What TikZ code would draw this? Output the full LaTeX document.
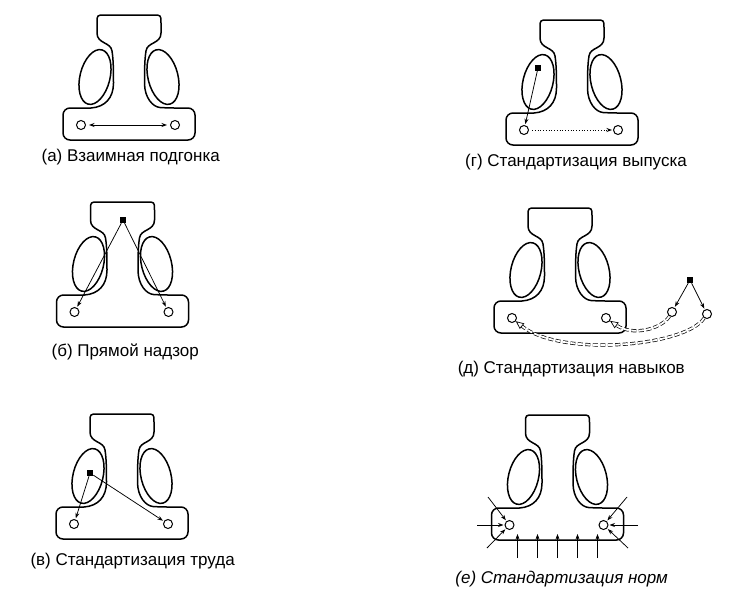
\documentclass[tikz,border=0pt]{standalone}
\usepackage{fontspec}
\setmainfont{Liberation Sans}
\usetikzlibrary{arrows.meta}
\tikzset{
  outline/.style={line width=1.5pt, line join=round},
  hole/.style={circle, draw, line width=1pt, minimum size=9pt, inner sep=0pt},
  sq/.style={rectangle, fill=black, minimum size=6pt, inner sep=0pt},
  arr/.style={line width=0.75pt, -{Stealth[length=5.5pt,width=4pt]}, shorten >=1pt},
  darr/.style={line width=0.75pt, {Stealth[length=5.5pt,width=4pt]}-{Stealth[length=5.5pt,width=4pt]}, shorten >=3pt, shorten <=3pt},
  dbl/.style={line width=0.7pt, double, double distance=1.8pt, dash pattern=on 5pt off 2.5pt, -{Triangle[open,length=8pt,width=7pt]}},
  lbl/.style={anchor=east, font=\fontsize{17}{19}\selectfont, inner sep=0pt},
  org/.pic={
    \draw[outline] (-38,0) [rounded corners=7pt] -- (-66,0) -- (-66,32) -- (66,32) -- (66,0) -- (38,0) [sharp corners]
      .. controls (24,-1) and (15.5,-10) .. (15.5,-25)
      .. controls (15.5,-35) and (15.5,-48) .. (17,-57)
      .. controls (18,-66) and (32,-64) .. (32,-75)
      -- (32,-85) .. controls (32,-93) .. (24,-93)
      -- (-24,-93) .. controls (-32,-93) .. (-32,-85)
      -- (-32,-75)
      .. controls (-32,-64) and (-18,-66) .. (-17,-57)
      .. controls (-15.5,-48) and (-15.5,-35) .. (-15.5,-25)
      .. controls (-15.5,-10) and (-24,-1) .. (-38,0) -- cycle;
    \draw[outline, rotate around={-14:(-34,-31)}] (-34,-31) ellipse [x radius=15, y radius=28];
    \draw[outline, rotate around={14:(34,-31)}] (34,-31) ellipse [x radius=15, y radius=28];
    \node[hole] (-cl) at (-48,17) {};
    \node[hole] (-cr) at (46,17) {};
  }
}
\begin{document}
\begin{tikzpicture}[x=1pt,y=-1pt]
\useasboundingbox (0,0) rectangle (729,597);
% (a)
\pic (a) at (129,108) {org};
\draw[darr] (a-cl) -- (a-cr);
\node[lbl] (la) at (220,157) {(а) Взаимная подгонка};
% (g)
\pic (g) at (572,113) {org};
\node[sq] (gs) at (538,68) {};
\draw[arr] (gs) -- (g-cl);
\draw[arr, dotted, shorten <=3pt] (g-cl) -- (g-cr);
\node[lbl] (lg) at (687,162) {(г) Стандартизация выпуска};
% (b)
\pic (b) at (122.5,295) {org};
\node[sq] (bs) at (123,220) {};
\draw[arr] (bs) -- (b-cl);
\draw[arr] (bs) -- (b-cr);
\node[lbl] (lb) at (199,352) {(б) Прямой надзор};
% (d)
\pic (d) at (560,301) {org};
\node[sq] (ds) at (690,280) {};
\node[hole] (d1) at (672,312) {};
\node[hole] (d2) at (707,314) {};
\draw[arr] (ds) -- (d1);
\draw[arr] (ds) -- (d2);
\draw[dbl] (d1.240) .. controls (660,330) and (632,336) .. (d-cr.-35);
\draw[dbl] (d2.235) .. controls (685,347) and (560,357) .. (d-cl.-40);
\node[lbl] (ld) at (685,369) {(д) Стандартизация навыков};
% (v)
\pic (v) at (122,507) {org};
\node[sq] (vs) at (90,473) {};
\draw[arr] (vs) -- (v-cl);
\draw[arr] (vs) -- (v-cr);
\node[lbl] (lv) at (235,561) {(в) Стандартизация труда};
% (e)
\pic (e) at (557.5,508) {org};
\coordinate (e1) at (477,525);
\coordinate (e2) at (488,497);
\coordinate (e3) at (487,548);
\coordinate (e4) at (638,525);
\coordinate (e5) at (627,497);
\coordinate (e6) at (628,548);
\foreach \c in {e1,e2,e3} \draw[arr] (\c) -- (e-cl);
\foreach \c in {e4,e5,e6} \draw[arr] (\c) -- (e-cr);
\foreach \dx [count=\i] in {-40,-20,0,20,40} {
  \coordinate (eb\i) at (557.5+\dx,558);
  \coordinate (et\i) at (557.5+\dx,534);
  \draw[arr, shorten >=0pt] (eb\i) -- (et\i);
}
\node[lbl, font=\fontsize{17}{19}\selectfont\itshape] (le) at (668,579) {(е) Стандартизация норм};
\end{tikzpicture}
\end{document}
